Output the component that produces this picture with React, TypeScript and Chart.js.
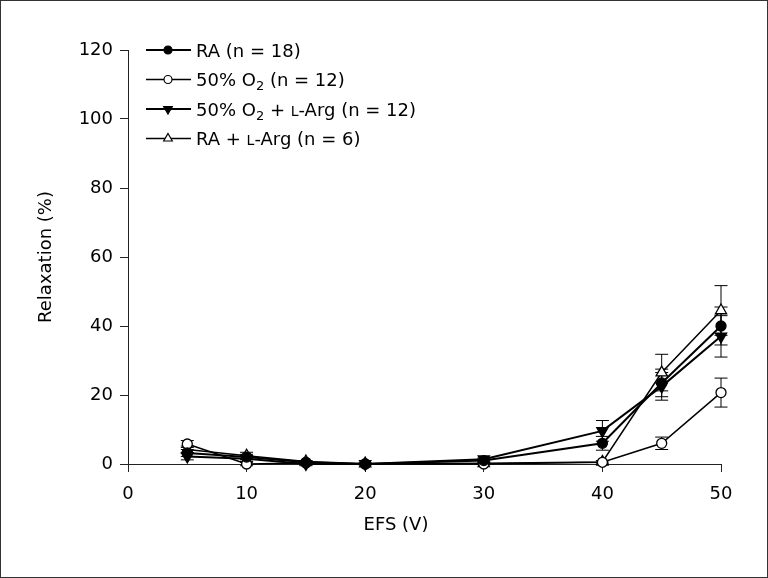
import React, { useEffect, useRef } from 'react';
import { Chart, registerables } from 'chart.js';

Chart.register(...registerables);

// ---- data ----
const voltages = [5, 10, 15, 20, 30, 40, 45, 50];

const raValues = [3.2, 2.0, 0.5, 0.0, 1.0, 6.0, 23.5, 40.0];
const raErrors = [1.0, 0.8, 0.3, 0.2, 0.3, 2.0, 4.0, 5.5];

const o2Values = [5.8, 0.0, 0.3, 0.0, 0.0, 0.5, 6.0, 20.7];
const o2Errors = [1.0, 0.5, 0.3, 0.2, 0.2, 0.5, 1.8, 4.2];

const o2ArgValues = [2.2, 1.5, 0.0, 0.0, 1.4, 9.6, 22.5, 37.0];
const o2ArgErrors = [1.0, 0.8, 0.5, 0.2, 0.3, 3.0, 4.0, 6.0];

const raArgValues = [4.2, 2.4, 0.7, 0.1, 0.2, 0.6, 26.5, 44.5];
const raArgErrors = [1.0, 1.0, 0.3, 0.2, 0.2, 0.3, 5.3, 7.2];

const seriesLabels = ['RA (n = 18)', '50% O₂ (n = 12)', '50% O₂ + L-Arg (n = 12)', 'RA + L-Arg (n = 6)'];

// legend text pieces: plain, subscript, small-capital
type Piece = { t: string; sub?: boolean; sc?: boolean };
const legendPieces: Piece[][] = [
  [{ t: 'RA (n = 18)' }],
  [{ t: '50% O' }, { t: '2', sub: true }, { t: ' (n = 12)' }],
  [{ t: '50% O' }, { t: '2', sub: true }, { t: ' + ' }, { t: 'L', sc: true }, { t: '-Arg (n = 12)' }],
  [{ t: 'RA + ' }, { t: 'L', sc: true }, { t: '-Arg (n = 6)' }],
];

const xTitle = 'EFS (V)';
const yTitle = 'Relaxation (%)';

const FONT = '"DejaVu Sans", sans-serif';

const allValues = [raValues, o2Values, o2ArgValues, raArgValues];
const allErrors = [raErrors, o2Errors, o2ArgErrors, raArgErrors];
const markerStyles = [
  { style: 'circle', fill: '#000', rot: 0, r: 5, lw: 2 },
  { style: 'circle', fill: '#fff', rot: 0, r: 5, lw: 1.5 },
  { style: 'triangle', fill: '#000', rot: 180, r: 6.5, lw: 2 },
  { style: 'triangle', fill: '#fff', rot: 0, r: 6.5, lw: 1.5 },
];

const decorPlugin = {
  id: 'decor',
  beforeDatasetsDraw(chart: any) {
    const { ctx, scales } = chart;
    const xs = scales.x;
    const ys = scales.y;
    ctx.save();
    ctx.strokeStyle = '#000';
    ctx.lineWidth = 1;
    allValues.forEach((vals, i) => {
      const errs = allErrors[i];
      vals.forEach((v, j) => {
        const e = errs[j];
        const px = xs.getPixelForValue(voltages[j]);
        const top = ys.getPixelForValue(v + e);
        const bot = ys.getPixelForValue(v - e);
        ctx.beginPath();
        ctx.moveTo(px, top);
        ctx.lineTo(px, bot);
        ctx.moveTo(px - 6.5, top);
        ctx.lineTo(px + 6.5, top);
        ctx.moveTo(px - 6.5, bot);
        ctx.lineTo(px + 6.5, bot);
        ctx.stroke();
      });
    });
    ctx.restore();
  },
  afterDraw(chart: any) {
    const { ctx, width, height } = chart;
    ctx.save();
    // outer frame
    ctx.strokeStyle = '#333';
    ctx.lineWidth = 1;
    ctx.strokeRect(0.5, 0.5, width - 1, height - 1);

    // x title
    ctx.fillStyle = '#000';
    ctx.font = `18px ${FONT}`;
    ctx.textAlign = 'center';
    ctx.textBaseline = 'middle';
    ctx.fillText(xTitle, 396, 525);

    // legend
    const rowY = [50, 79.5, 109, 138.5];
    legendPieces.forEach((pieces, i) => {
      const y = rowY[i];
      const m = markerStyles[i];
      ctx.strokeStyle = '#000';
      ctx.lineWidth = m.lw;
      ctx.beginPath();
      ctx.moveTo(146, y);
      ctx.lineTo(191, y);
      ctx.stroke();
      ctx.fillStyle = m.fill;
      ctx.lineWidth = 1.2;
      ctx.beginPath();
      if (m.style === 'circle') {
        ctx.arc(168, y, 4, 0, Math.PI * 2);
      } else {
        const r = 5;
        const up = m.rot === 0 ? 1 : -1;
        ctx.moveTo(168, y - up * r);
        ctx.lineTo(168 + r * 0.866, y + up * r * 0.5);
        ctx.lineTo(168 - r * 0.866, y + up * r * 0.5);
        ctx.closePath();
      }
      ctx.fill();
      ctx.stroke();

      let x = 196;
      ctx.fillStyle = '#000';
      ctx.textAlign = 'left';
      ctx.textBaseline = 'alphabetic';
      const base = y + 6.5;
      pieces.forEach((p) => {
        if (p.sub) {
          ctx.font = `13px ${FONT}`;
          ctx.fillText(p.t, x, base + 4);
        } else if (p.sc) {
          ctx.font = `14px ${FONT}`;
          ctx.fillText(p.t, x, base);
        } else {
          ctx.font = `18px ${FONT}`;
          ctx.fillText(p.t, x, base);
        }
        x += ctx.measureText(p.t).width;
      });
    });
    ctx.restore();
  },
};

export default function App() {
  const canvasRef = useRef<HTMLCanvasElement | null>(null);

  useEffect(() => {
    const canvas = canvasRef.current;
    if (!canvas) return;
    const datasets = allValues.map((vals, i) => {
      const m = markerStyles[i];
      return {
        label: seriesLabels[i],
        data: voltages.map((v, j) => ({ x: v, y: vals[j] })),
        borderColor: '#000',
        borderWidth: m.lw,
        backgroundColor: m.fill,
        pointStyle: m.style as any,
        pointRotation: m.rot,
        pointRadius: m.r,
        pointBorderWidth: 1.3,
        pointBorderColor: '#000',
        pointBackgroundColor: m.fill,
        tension: 0,
        fill: false,
        clip: false as any,
      };
    });

    const chart = new Chart(canvas, {
      type: 'line',
      data: { datasets },
      options: {
        animation: false,
        responsive: false,
        devicePixelRatio: 1,
        events: [],
        layout: { padding: { left: 0, top: 50, right: 47, bottom: 0 } },
        plugins: {
          legend: { display: false },
          tooltip: { enabled: false },
        },
        scales: {
          x: {
            type: 'linear',
            min: 0,
            max: 50,
            afterFit: (s: any) => {
              s.height = 114;
            },
            ticks: {
              stepSize: 10,
              padding: 12,
              color: '#000',
              font: { family: FONT, size: 18 },
            },
            grid: {
              drawOnChartArea: false,
              drawTicks: true,
              tickLength: 8,
              color: '#222',
            },
            border: { display: true, color: '#222', width: 1 },
          },
          y: {
            type: 'linear',
            min: 0,
            max: 120,
            afterFit: (s: any) => {
              s.width = 128;
            },
            ticks: {
              stepSize: 20,
              padding: 7,
              color: '#000',
              font: { family: FONT, size: 18 },
            },
            grid: {
              drawOnChartArea: false,
              drawTicks: true,
              tickLength: 8,
              color: '#222',
            },
            border: { display: true, color: '#222', width: 1 },
            title: {
              display: true,
              text: yTitle,
              color: '#000',
              font: { family: FONT, size: 18 },
              padding: { top: 36, bottom: 0 },
            },
          },
        },
      },
      plugins: [decorPlugin],
    });
    return () => chart.destroy();
  }, []);

  return (
    <div style={{ position: 'fixed', left: 0, top: 0, width: 768, height: 578, background: '#fff' }}>
      <canvas ref={canvasRef} width={768} height={578} style={{ width: 768, height: 578, display: 'block' }} />
    </div>
  );
}
